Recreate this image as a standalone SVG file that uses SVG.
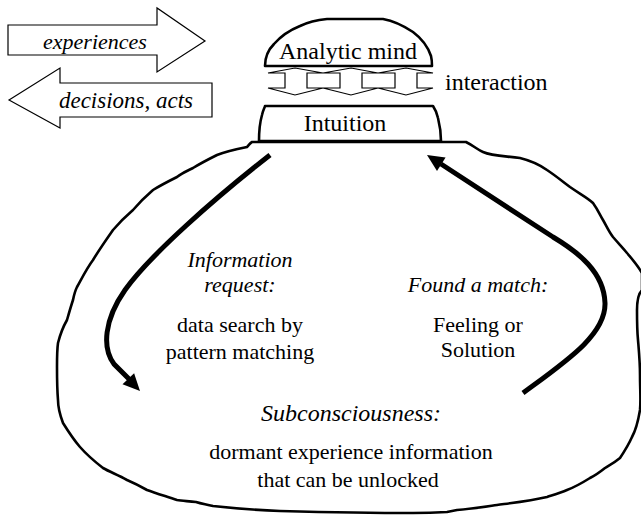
<svg xmlns="http://www.w3.org/2000/svg" width="641" height="515" viewBox="0 0 641 515">
  <style>
    .txt { font-family: "Liberation Serif", "Times New Roman", serif; fill: #000; }
    .it { font-style: italic; }
    .c { text-anchor: middle; }
    .outline { fill: #fff; stroke: #000; stroke-width: 2.6; stroke-linejoin: round; stroke-linecap: round; }
    .thin { fill: #fff; stroke: #000; stroke-width: 1.2; stroke-linejoin: miter; }
    .flow { fill: none; stroke: #000; stroke-width: 5; stroke-linecap: butt; }
    .head { fill: #000; stroke: none; }
  </style>

  <rect width="641" height="515" fill="#fff"/>

  <!-- subconscious region (wobbly outline) -->
  <g id="subconsciousness">
    <path class="outline" d="M252,142 L466,142 C474,146 478,150 483,152 C492,156 505,156 520,158 C532,161 540,165 547,170 C556,176 562,181 570,187 C580,194 588,198 593,203 C598,210 600,215 603,220 C607,227 609,232 613,237 C619,244 623,248 627,253 C633,260 638,266 642,273 L642,290 C638,294 637,300 637,310 C637,322 637,330 638,340 C639,352 640,362 640,375 C640,390 641,400 640,410 C638,422 636,430 632,437 C628,446 624,452 620,458 C614,463 610,465 605,468 C600,472 596,475 590,478 C582,483 575,487 567,490 C560,493 553,495 547,497 C530,501 512,503 497,505 C483,507 470,509 457,510 L447,512 C430,513 420,513 413,513 C370,513 320,512 280,511 C255,510 232,508 213,506 C205,504 202,504 196,502 C188,501 182,501 177,500 C165,496 155,493 147,490 C140,486 134,483 127,480 C118,475 110,472 103,468 C94,461 87,455 80,447 C73,439 68,431 63,423 C60,415 58,408 58,400 C57,388 57,378 57,367 C57,358 57,350 58,343 C60,335 63,327 67,320 C69,313 71,306 73,300 C74,295 75,291 77,287 C82,278 87,268 93,260 C99,250 106,240 113,230 C119,223 126,216 133,210 C139,203 146,196 153,190 C161,185 169,181 177,177 C182,173 187,171 193,168 C201,163 209,159 217,155 C227,151 237,149 247,147 C249,145 250,143 252,142 Z"/>
  </g>

  <!-- intuition box sitting on the region -->
  <g id="intuition">
    <path class="outline" d="M259,141 C259,132 260,122 262,115 C263,110 265,107 265,106 L433,106 C435,109 437,113 438,118 C440,126 441,134 441,141 Z"/>
    <text class="txt c" x="345" y="131" font-size="24">Intuition</text>
  </g>

  <!-- analytic mind dome -->
  <g id="analytic-mind">
    <path class="outline" d="M265,66 C265,58 268,50 274,44 C281,36 290,30 300,26 C308,22 316,20 327,19 L383,19 C394,21 404,26 413,32 C421,38 428,47 431,56 C432,60 432,63 432,66 Z"/>
    <text class="txt c" x="348" y="59" font-size="24">Analytic mind</text>
  </g>

  <!-- interaction: three hollow double arrows -->
  <g id="interaction">
    <g class="thin">
      <polygon points="295,68 323,73 307,73 307,88 323,88 295,95 268,88 285,88 285,73 268,73"/>
      <polygon points="351,68 378,73 362,73 362,88 378,88 351,95 323,88 340,88 340,73 323,73"/>
      <polygon points="406,68 433,73 417,73 417,88 433,88 406,95 378,88 395,88 395,73 378,73"/>
    </g>
    <text class="txt" x="445" y="90" font-size="24">interaction</text>
  </g>

  <!-- input / output block arrows -->
  <g id="experiences">
    <polygon class="thin" points="8,25 157,25 157,8 205,41 157,72 157,55 8,55"/>
    <text class="txt it c" x="95" y="49" font-size="22">experiences</text>
  </g>
  <g id="decisions">
    <polygon class="thin" points="9,100 60,68 60,83 212,83 212,117 60,117 60,128"/>
    <text class="txt it c" x="126" y="108" font-size="23">decisions, acts</text>
  </g>

  <!-- labels inside the region -->
  <g id="request-label">
    <text class="txt it c" x="240" y="267" font-size="22">Information</text>
    <text class="txt it c" x="240" y="292" font-size="22">request:</text>
    <text class="txt c" x="240" y="332" font-size="22">data search by</text>
    <text class="txt c" x="240" y="359" font-size="22">pattern matching</text>
  </g>
  <g id="match-label">
    <text class="txt it c" x="478" y="292" font-size="22">Found a match:</text>
    <text class="txt c" x="478" y="332" font-size="22">Feeling or</text>
    <text class="txt c" x="478" y="357" font-size="22">Solution</text>
  </g>
  <g id="subconscious-label">
    <text class="txt it c" x="351" y="421" font-size="24">Subconsciousness:</text>
    <text class="txt c" x="351" y="459" font-size="22">dormant experience information</text>
    <text class="txt c" x="348" y="487" font-size="22">that can be unlocked</text>
  </g>

  <!-- connectors -->
  <g id="connectors">
    <path class="flow" d="M270,155 C215,198 150,255 125,290 C104,320 102,348 114,364 L129,379"/>
    <polygon class="head" points="140,391 122.5,384.3 134.1,373.3"/>
    <path class="flow" d="M523,393 C565,362 606,335 605,303 C604,272 578,252 553,237 L441,164"/>
    <polygon class="head" points="427,155 445.6,157.5 437,170.9"/>
  </g>
</svg>
